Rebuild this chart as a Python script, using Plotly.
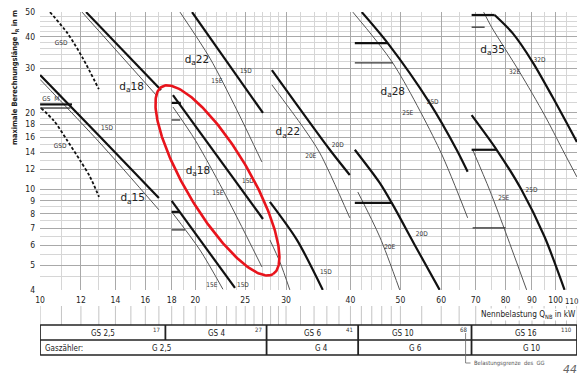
import numpy as np
import plotly.graph_objects as go

# ---------------- axes ----------------
x_ticks = [10, 12, 14, 16, 18, 20, 25, 30, 40, 50, 60, 70, 80, 90, 100, 110]
x_minor = [11, 13, 15, 17, 19, 21, 22, 23, 24, 26, 27, 28, 29, 32, 34, 36, 38,
           42, 44, 46, 48, 55, 65, 75, 85, 95, 105]
y_ticks = [4, 5, 6, 7, 8, 9, 10, 12, 14, 16, 18, 20, 30, 40, 50]
y_minor = [4.5, 5.5, 6.5, 7.5, 8.5, 9.5, 11, 13, 15, 17, 19, 22, 24, 26, 28,
           32, 34, 36, 38, 42, 44, 46, 48]

# ---------------- curves (Q in kW, l_R in m) ----------------
# GS 2,5 group
gsd_upper_x = [10.45, 11.3, 12.1, 13.0]
gsd_upper_y = [50, 41.3, 32.9, 24.8]
gsd_lower_x = [10.04, 10.64, 11.28, 11.95, 12.5, 13.01]
gsd_lower_y = [20.9, 18.6, 15.6, 13.0, 11.17, 9.31]
gs25_da18_D_x = [12.28, 17.16]
gs25_da18_D_y = [50, 24.6]
gs25_da18_E_x = [12.06, 16.86]
gs25_da18_E_y = [50, 23.3]
gs25_da15_D_x = [10, 13.07, 17.0]
gs25_da15_D_y = [28.2, 16.1, 9.23]
gs25_da15_E_x = [10, 13.07, 17.0]
gs25_da15_E_y = [27.1, 15.2, 8.28]
gsm_D_x = [10, 11.53]
gsm_D_y = [21.6, 21.6]
gsm_E_x = [10, 11.45]
gsm_E_y = [20.9, 20.9]

# GS 4 group
gs4_da22_D_x = [19.71, 27.06]
gs4_da22_D_y = [50, 19.98]
gs4_da22_E_x = [18.68, 21.35, 24.09, 26.93]
gs4_da22_E_y = [50, 32.9, 20.5, 12.8]
gs4_da18_D_x = [18.10, 27.06]
gs4_da18_D_y = [23.5, 7.62]
gs4_da18_E_x = [18.10, 20.0, 22.63, 25.18, 26.93]
gs4_da18_E_y = [21.1, 15.6, 9.92, 6.48, 4.93]
gs4_da18_hD_x = [18.0, 18.75]
gs4_da18_hD_y = [21.9, 21.9]
gs4_da18_hE_x = [18.0, 18.7]
gs4_da18_hE_y = [18.75, 18.75]
gs4_da15_D_x = [18.0, 23.88]
gs4_da15_D_y = [8.98, 4.07]
gs4_da15_E_x = [18.0, 20.42, 22.63]
gs4_da15_E_y = [8.13, 5.75, 4.02]
gs4_da15_hD_x = [18.0, 18.65]
gs4_da15_hD_y = [8.13, 8.13]
gs4_da15_hE_x = [18.0, 19.1]
gs4_da15_hE_y = [6.90, 6.90]

# GS 6 group
gs6_da22_D_x = [28.16, 36.48, 39.88]
gs6_da22_D_y = [29.5, 14.3, 11.37]
gs6_da22_E_x = [28.16, 32.34, 34.88, 39.88]
gs6_da22_E_y = [25.8, 17.6, 13.9, 7.70]
gs6_da18_D_x = [27.91, 31.49, 35.35]
gs6_da18_D_y = [8.90, 6.30, 4.0]
gs6_da18_E_x = [27.91, 29.18, 30.51]
gs6_da18_E_y = [6.30, 5.16, 4.0]

# GS 10 group
gs10_da28_D_x = [42.07, 47.25, 56.98, 64.28, 67.52]
gs10_da28_D_y = [50, 37.7, 21.9, 14.3, 11.7]
gs10_da28_E_x = [40.43, 48.32, 59.58, 67.52]
gs10_da28_E_y = [50, 31.5, 14.3, 7.70]
gs10_da28_hD_x = [40.79, 47.25]
gs10_da28_hD_y = [37.7, 37.7]
gs10_da28_hE_x = [40.79, 48.32]
gs10_da28_hE_y = [31.5, 31.5]
gs10_da22_D_x = [40.79, 45.59, 48.11, 53.30, 59.58]
gs10_da22_D_y = [14.3, 10.58, 8.82, 6.02, 4.0]
gs10_da22_E_x = [41.34, 45.59, 49.84]
gs10_da22_E_y = [9.74, 6.48, 4.0]
gs10_da22_hD_x = [40.79, 48.11]
gs10_da22_hD_y = [8.82, 8.82]

# GS 16 group
gs16_da35_D_x = [76.17, 82.55, 90.25, 98.67, 110]
gs16_da35_D_y = [48.7, 41.3, 31.75, 23.1, 15.35]
gs16_da35_E_x = [72.53, 75.16, 85.16, 95.2, 103.2, 110]
gs16_da35_E_y = [50, 43.6, 29.0, 19.6, 14.3, 11.17]
gs16_da35_hD_x = [68.73, 76.17]
gs16_da35_hD_y = [48.7, 48.7]
gs16_da35_hE_x = [68.73, 72.85]
gs16_da35_hE_y = [43.6, 43.6]
gs16_da28_D_x = [68.73, 76.86, 85.93, 95.2, 104.1]
gs16_da28_D_y = [19.6, 14.3, 9.92, 6.48, 4.0]
gs16_da28_E_x = [69.04, 74.48, 80.35, 87.87]
gs16_da28_E_y = [14.3, 9.92, 6.59, 4.0]
gs16_da28_hD_x = [68.73, 76.86]
gs16_da28_hD_y = [14.3, 14.3]
gs16_da28_hE_x = [69.04, 80.0]
gs16_da28_hE_y = [7.03, 7.03]

# ---------------- labels ----------------
da_text = ["d<sub>a</sub>18", "d<sub>a</sub>15", "d<sub>a</sub>22", "d<sub>a</sub>18",
           "d<sub>a</sub>22", "d<sub>a</sub>28", "d<sub>a</sub>35"]
da_x = [15.05, 15.12, 20.15, 20.24, 30.24, 48.32, 75.48]
da_y = [25.2, 9.15, 32.3, 11.8, 16.7, 24.2, 35.4]

small_text = ["GSD", "GSD", "15D", "15E", "15D", "15E", "15D", "15E", "15D",
              "20D", "20E", "15D", "25D", "25E", "20D", "20E", "32D", "32E", "25D", "25E"]
small_x = [10.98, 10.93, 13.48, 22.03, 25.07, 22.13, 25.3, 21.54, 24.74,
           37.8, 33.5, 35.84, 57.75, 51.67, 55.0, 47.67, 93.11, 83.3, 89.85, 79.32]
small_y = [37.7, 14.7, 17.4, 26.7, 29.3, 9.66, 10.77, 4.15, 4.18,
           14.9, 13.5, 4.67, 22.1, 19.98, 6.65, 5.91, 32.3, 29.0, 9.92, 9.15]

# ---------------- table below ----------------
gs_names = ["GS 2,5", "GS 4", "GS 6", "GS 10", "GS 16"]
gs_limits = ["17", "27", "41", "68", "110"]
gs_bounds = [10, 17.5, 27.5, 41.4, 68.7, 110]
gs_label_x = [13.25, 22.0, 33.8, 50.6, 87.7]
g_names = ["G 2,5", "G 4", "G 6", "G 10"]
g_bounds = [10, 27.5, 41.4, 68.7, 110]
g_label_x = [17.2, 35.2, 53.6, 90.0]

# highlight ellipse (centre in kW / m, axes in decades)
ell_center = (22.08, 10.82)
ell_major = (0.1078, -0.370)
ell_minor = (0.0533, 0.0644)

# ---------------- figure ----------------
fig = go.Figure()

D = dict(color="#111111", width=2.2)
E = dict(color="#555555", width=1.0)
HE = dict(color="#333333", width=1.3)
DASH = dict(color="#111111", width=1.8, dash="3px,2px")

curves = [
    (gsd_upper_x, gsd_upper_y, DASH), (gsd_lower_x, gsd_lower_y, DASH),
    (gs25_da18_D_x, gs25_da18_D_y, D), (gs25_da18_E_x, gs25_da18_E_y, E),
    (gs25_da15_D_x, gs25_da15_D_y, D), (gs25_da15_E_x, gs25_da15_E_y, E),
    (gsm_D_x, gsm_D_y, D), (gsm_E_x, gsm_E_y, HE),
    (gs4_da22_D_x, gs4_da22_D_y, D), (gs4_da22_E_x, gs4_da22_E_y, E),
    (gs4_da18_D_x, gs4_da18_D_y, D), (gs4_da18_E_x, gs4_da18_E_y, E),
    (gs4_da18_hD_x, gs4_da18_hD_y, D), (gs4_da18_hE_x, gs4_da18_hE_y, HE),
    (gs4_da15_D_x, gs4_da15_D_y, D), (gs4_da15_E_x, gs4_da15_E_y, E),
    (gs4_da15_hD_x, gs4_da15_hD_y, D), (gs4_da15_hE_x, gs4_da15_hE_y, HE),
    (gs6_da22_D_x, gs6_da22_D_y, D), (gs6_da22_E_x, gs6_da22_E_y, E),
    (gs6_da18_D_x, gs6_da18_D_y, D), (gs6_da18_E_x, gs6_da18_E_y, E),
    (gs10_da28_D_x, gs10_da28_D_y, D), (gs10_da28_E_x, gs10_da28_E_y, E),
    (gs10_da28_hD_x, gs10_da28_hD_y, D), (gs10_da28_hE_x, gs10_da28_hE_y, HE),
    (gs10_da22_D_x, gs10_da22_D_y, D), (gs10_da22_E_x, gs10_da22_E_y, E),
    (gs10_da22_hD_x, gs10_da22_hD_y, D),
    (gs16_da35_D_x, gs16_da35_D_y, D), (gs16_da35_E_x, gs16_da35_E_y, E),
    (gs16_da35_hD_x, gs16_da35_hD_y, D), (gs16_da35_hE_x, gs16_da35_hE_y, HE),
    (gs16_da28_D_x, gs16_da28_D_y, D), (gs16_da28_E_x, gs16_da28_E_y, E),
    (gs16_da28_hD_x, gs16_da28_hD_y, D), (gs16_da28_hE_x, gs16_da28_hE_y, HE),
]
for cx, cy, st in curves:
    shape = "spline" if len(cx) > 2 else "linear"
    fig.add_trace(go.Scatter(x=cx, y=cy, mode="lines", line=dict(shape=shape, smoothing=0.8, **st),
                             hoverinfo="skip", cliponaxis=True))

fig.add_trace(go.Scatter(x=da_x, y=da_y, mode="text", text=da_text,
                         textfont=dict(family="DejaVu Sans", size=10.5, color="#222222"),
                         hoverinfo="skip"))
fig.add_trace(go.Scatter(x=small_x, y=small_y, mode="text", text=small_text,
                         textfont=dict(family="DejaVu Sans Condensed", size=6.5, color="#333333"),
                         hoverinfo="skip"))
fig.add_trace(go.Scatter(x=[10.1], y=[22.6], mode="text", text=["GS  M"], textposition="middle right",
                         textfont=dict(family="DejaVu Sans Condensed", size=6.5, color="#333333"),
                         hoverinfo="skip"))

t = np.linspace(0, 2 * np.pi, 241)
lx = np.log10(ell_center[0]) + ell_major[0] * np.cos(t) + ell_minor[0] * np.sin(t)
ly = np.log10(ell_center[1]) + ell_major[1] * np.cos(t) + ell_minor[1] * np.sin(t)
fig.add_trace(go.Scatter(x=10 ** lx, y=10 ** ly, mode="lines",
                         line=dict(color="#e8141c", width=2.6), hoverinfo="skip"))

FONT_C = "DejaVu Sans Condensed, sans-serif"

# last x tick label (110) is drawn separately so it stays inside the page
x_ticktext = [str(v) for v in x_ticks[:-1]] + [""]

fig.update_layout(
    width=580, height=376, margin=dict(l=40, r=3, t=12, b=86, autoexpand=False),
    paper_bgcolor="white", plot_bgcolor="white", showlegend=False,
    font=dict(family=FONT_C, color="#222222"),
    xaxis=dict(type="log", range=[np.log10(9.995), np.log10(110.05)], automargin=False,
               tickmode="array", tickvals=x_ticks, ticktext=x_ticktext,
               showgrid=True, gridcolor="#a9a9a9", gridwidth=1, zeroline=False, showline=False,
               ticks="", ticklabelstandoff=3, ticklabeloverflow="allow",
               tickfont=dict(family=FONT_C, size=8.5, color="#222222"),
               minor=dict(tickmode="array", tickvals=x_minor, showgrid=True,
                          gridcolor="#d6d6d6", gridwidth=1, ticks="")),
    yaxis=dict(type="log", range=[np.log10(3.995), np.log10(50.05)], automargin=False,
               tickmode="array", tickvals=y_ticks, ticktext=[str(v) for v in y_ticks],
               showgrid=True, gridcolor="#a9a9a9", gridwidth=1, zeroline=False, showline=False,
               ticks="", ticklabelstandoff=4, ticklabeloverflow="allow",
               tickfont=dict(family=FONT_C, size=8.5, color="#222222"),
               minor=dict(tickmode="array", tickvals=y_minor, showgrid=True,
                          gridcolor="#d6d6d6", gridwidth=1, ticks="")),
)

def py2paper(px):
    return (290 - px) / 278.0

shapes = []
for v in x_ticks + x_minor:
    shapes.append(dict(type="line", xref="x", yref="paper", x0=v, x1=v,
                       y0=py2paper(306), y1=py2paper(325), line=dict(color="#c4c4c4", width=1)))
TL = dict(color="#222222", width=1.5)
for yy in (325, 340, 355):
    shapes.append(dict(type="line", xref="x", yref="paper", x0=10, x1=110,
                       y0=py2paper(yy), y1=py2paper(yy), line=TL))
for v in (10, 110):
    shapes.append(dict(type="line", xref="x", yref="paper", x0=v, x1=v,
                       y0=py2paper(325), y1=py2paper(355), line=TL))
for v in gs_bounds[1:-1]:
    shapes.append(dict(type="line", xref="x", yref="paper", x0=v, x1=v,
                       y0=py2paper(325), y1=py2paper(340), line=dict(color="#222222", width=1.8)))
for v in g_bounds[1:-1]:
    shapes.append(dict(type="line", xref="x", yref="paper", x0=v, x1=v,
                       y0=py2paper(340), y1=py2paper(355), line=dict(color="#222222", width=1.8)))
# pointer for Belastungsgrenze
shapes.append(dict(type="line", xref="x", yref="paper", x0=66.9, x1=66.9,
                   y0=py2paper(333), y1=py2paper(363), line=dict(color="#666666", width=0.8)))
shapes.append(dict(type="line", xref="x", yref="paper", x0=66.9, x1=68.4,
                   y0=py2paper(363), y1=py2paper(363), line=dict(color="#666666", width=0.8)))
fig.update_layout(shapes=shapes)

ann = []
def A(**kw):
    d = dict(showarrow=False, xanchor="center", yanchor="middle")
    d.update(kw)
    ann.append(d)

A(xref="paper", yref="paper", x=1, y=py2paper(301), text=str(x_ticks[-1]),
  xanchor="right", xshift=3, font=dict(family=FONT_C, size=7.8, color="#222222"))
for name, xc in zip(gs_names, gs_label_x):
    A(xref="x", yref="paper", x=np.log10(xc), y=py2paper(333), text=name,
      font=dict(family=FONT_C, size=8, color="#222222"))
for lim, xb in zip(gs_limits, gs_bounds[1:]):
    A(xref="x", yref="paper", x=np.log10(xb), y=py2paper(329.5), text=lim,
      xanchor="right", xshift=-3, font=dict(family=FONT_C, size=6, color="#333333"))
for name, xc in zip(g_names, g_label_x):
    A(xref="x", yref="paper", x=np.log10(xc), y=py2paper(348), text=name,
      font=dict(family=FONT_C, size=8, color="#222222"))
A(xref="x", yref="paper", x=np.log10(10), y=py2paper(348.5), text="Gaszähler:",
  xanchor="left", xshift=3, font=dict(family=FONT_C, size=8, color="#222222"))
A(xref="x", yref="paper", x=np.log10(68.4), y=py2paper(363), text="Belastungsgrenze  des  GG",
  xanchor="left", xshift=1, font=dict(family=FONT_C, size=5.8, color="#555555"))
A(xref="paper", yref="paper", x=1, y=py2paper(314), text="Nennbelastung Q<sub>NB</sub> in kW",
  xanchor="right", bgcolor="white", borderpad=0,
  font=dict(family=FONT_C, size=8.2, color="#222222"))
A(xref="paper", yref="paper", x=(15 - 40) / 537.0, y=py2paper(78),
  text="<b>maximale Berechnungslänge l<sub>R</sub> in m</b>", textangle=-90,
  font=dict(family=FONT_C, size=7.4, color="#222222"))
A(xref="paper", yref="paper", x=1, y=py2paper(369), text="<i>44</i>",
  xanchor="right", xshift=2, font=dict(family="DejaVu Sans", size=11, color="#666666"))
fig.update_layout(annotations=ann)

fig.write_html("out.html", config={"displayModeBar": False},
               post_script="document.body.style.margin='0';document.body.style.overflow='hidden';")
